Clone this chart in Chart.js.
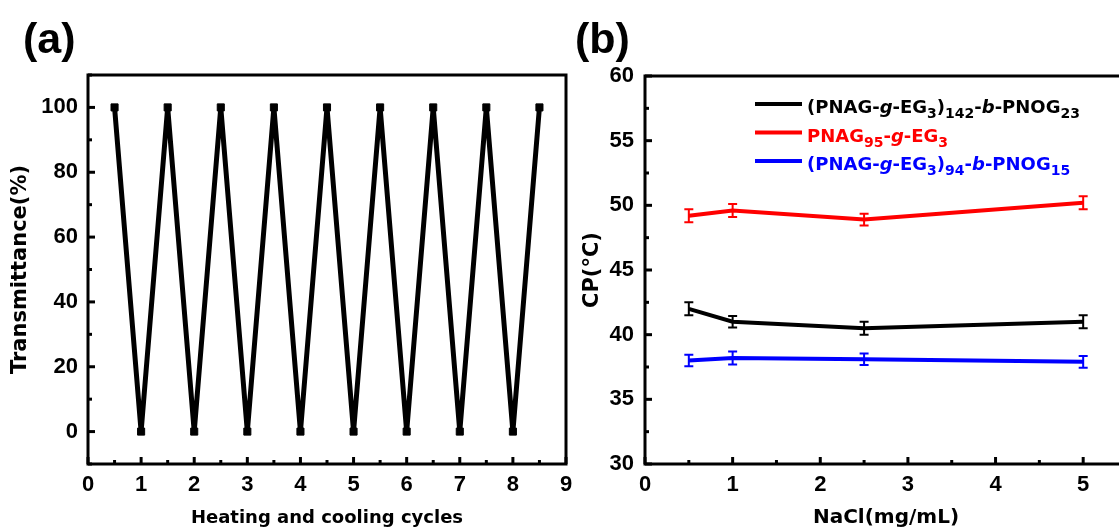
<!DOCTYPE html>
<html>
<head>
<meta charset="utf-8">
<script src="https://cdn.jsdelivr.net/npm/chart.js@4.4.1/dist/chart.umd.min.js"></script>
<style>
    html, body { margin: 0; padding: 0; background: #fff; overflow: hidden; }
    body { width: 1119px; height: 531px; position: relative; }
    canvas { position: absolute; top: 0; }
    #chartA { left: 0; }
    #chartB { left: 570px; }
</style>
</head>
<body>
<canvas id="chartA" width="610" height="531"></canvas>
<canvas id="chartB" width="600" height="531"></canvas>
<script>
// (a) heating / cooling cycles
const CYCLES = [0.5, 1, 1.5, 2, 2.5, 3, 3.5, 4, 4.5, 5, 5.5, 6, 6.5, 7, 7.5, 8, 8.5];
const TRANSMITTANCE = [100, 0, 100, 0, 100, 0, 100, 0, 100, 0, 100, 0, 100, 0, 100, 0, 100];
const X_TICKS_A = [0, 1, 2, 3, 4, 5, 6, 7, 8, 9];
const Y_TICKS_A = [0, 20, 40, 60, 80, 100];

// (b) cloud point vs NaCl
const NACL = [0.5, 1, 2.5, 5];
const CP_BLOCK142 = [42.0, 41.0, 40.5, 41.0];
const ERR_BLOCK142 = [0.5, 0.45, 0.5, 0.5];
const CP_PNAG95 = [49.2, 49.6, 48.9, 50.2];
const ERR_PNAG95 = [0.5, 0.5, 0.45, 0.5];
const CP_BLOCK94 = [38.0, 38.2, 38.1, 37.9];
const ERR_BLOCK94 = [0.45, 0.5, 0.45, 0.45];
const X_TICKS_B = [0, 1, 2, 3, 4, 5];
const Y_TICKS_B = [30, 35, 40, 45, 50, 55, 60];

const TICK_FONT = { family: 'Liberation Sans', size: 22, weight: 'bold' };
const XTITLE_A = { family: 'DejaVu Sans', size: 18, weight: 'bold' };
const XTITLE_B = { family: 'DejaVu Sans', size: 20, weight: 'bold' };
const YTITLE_FONT = { family: 'DejaVu Sans', size: 21, weight: 'bold' };

Chart.defaults.font.family = 'Liberation Sans';
Chart.defaults.color = '#000';

const pts = (xs, ys) => xs.map((x, i) => ({ x, y: ys[i] }));
const fixTicks = list => scale => { scale.ticks = list.map(v => ({ value: v })); };

// box around the plot with inward ticks on left and bottom
const framePlugin = {
    id: 'frame',
    afterDraw(chart, args, opts) {
        const { ctx, chartArea: a, scales: { x, y } } = chart;
        ctx.save();
        ctx.strokeStyle = '#000';
        ctx.lineWidth = 3;
        ctx.lineCap = 'butt';
        const isMajor = (v, step) => Math.abs(v / step - Math.round(v / step)) < 1e-6;
        for (let v = x.min; v <= x.max + 1e-9; v += opts.xMinor) {
            const px = x.getPixelForValue(v);
            const len = isMajor(v, opts.xMajor) ? 7 : 4;
            ctx.beginPath();
            ctx.moveTo(px, a.bottom);
            ctx.lineTo(px, a.bottom - len);
            ctx.stroke();
        }
        for (let v = y.min; v <= y.max + 1e-9; v += opts.yMinor) {
            const py = y.getPixelForValue(v);
            const len = isMajor(v - opts.yBase, opts.yMajor) ? 7 : 4;
            ctx.beginPath();
            ctx.moveTo(a.left, py);
            ctx.lineTo(a.left + len, py);
            ctx.stroke();
        }
        ctx.strokeRect(a.left, a.top, a.right - a.left, a.bottom - a.top);
        ctx.restore();
    },
};

const panelLabel = {
    id: 'panelLabel',
    afterDraw(chart, args, opts) {
        const { ctx } = chart;
        ctx.save();
        ctx.font = 'bold 43px "Liberation Sans"';
        ctx.fillStyle = '#000';
        ctx.textBaseline = 'alphabetic';
        ctx.fillText(opts.text, opts.x, opts.y);
        ctx.restore();
    },
};

const errorBars = {
    id: 'errorBars',
    afterDatasetsDraw(chart, args, opts) {
        const { ctx, scales: { x, y } } = chart;
        ctx.save();
        ctx.lineWidth = 2;
        opts.sets.forEach(s => {
            ctx.strokeStyle = s.color;
            NACL.forEach((n, i) => {
                const px = x.getPixelForValue(n);
                const top = y.getPixelForValue(s.values[i] + s.errors[i]);
                const bot = y.getPixelForValue(s.values[i] - s.errors[i]);
                ctx.beginPath();
                ctx.moveTo(px, top); ctx.lineTo(px, bot);
                ctx.moveTo(px - 4.5, top); ctx.lineTo(px + 4.5, top);
                ctx.moveTo(px - 4.5, bot); ctx.lineTo(px + 4.5, bot);
                ctx.stroke();
            });
        });
        ctx.restore();
    },
};

// legend with subscripts and italic letters
const richLegend = {
    id: 'richLegend',
    afterDraw(chart, args, opts) {
        const { ctx } = chart;
        ctx.save();
        opts.rows.forEach((row, r) => {
            const ly = opts.y + r * opts.gap;
            ctx.strokeStyle = row.color;
            ctx.fillStyle = row.color;
            ctx.lineWidth = 4;
            ctx.beginPath();
            ctx.moveTo(opts.x, ly);
            ctx.lineTo(opts.x + 47, ly);
            ctx.stroke();
            let tx = opts.x + 52;
            const base = ly + 9;
            row.parts.forEach(([t, kind]) => {
                if (kind === 's') ctx.font = 'bold 14px "DejaVu Sans"';
                else if (kind === 'i') ctx.font = 'italic bold 18px "DejaVu Sans"';
                else ctx.font = 'bold 18px "DejaVu Sans"';
                ctx.fillText(t, tx, kind === 's' ? base + 5 : base);
                tx += ctx.measureText(t).width;
            });
        });
        ctx.restore();
    },
};

function initCycles() {
    const el = document.getElementById('chartA');
    new Chart(el, {
        type: 'line',
        data: {
            datasets: [{
                data: pts(CYCLES, TRANSMITTANCE),
                borderColor: '#000',
                backgroundColor: '#000',
                borderWidth: 5,
                pointStyle: 'rect',
                pointRadius: 5,
                pointBorderWidth: 1,
                tension: 0,
            }],
        },
        options: {
            responsive: false,
            animation: false,
            layout: { padding: { top: 75, right: 44, bottom: 0, left: 0 } },
            plugins: {
                legend: { display: false },
                tooltip: { enabled: false },
                frame: { xMinor: 0.5, xMajor: 1, yMinor: 10, yMajor: 20, yBase: 0 },
                panelLabel: { text: '(a)', x: 23, y: 53 },
            },
            scales: {
                x: {
                    type: 'linear',
                    min: 0,
                    max: 9,
                    afterBuildTicks: fixTicks(X_TICKS_A),
                    afterFit: s => { s.height = 67; },
                    grid: { display: false, drawTicks: false },
                    border: { display: false },
                    ticks: { font: TICK_FONT, color: '#000', padding: 8, maxRotation: 0, autoSkip: false },
                    title: { display: true, text: 'Heating and cooling cycles', font: XTITLE_A, color: '#000', padding: { top: 0, bottom: 2 } },
                },
                y: {
                    min: -10,
                    max: 110,
                    afterBuildTicks: fixTicks(Y_TICKS_A),
                    afterFit: s => { s.width = 88; },
                    grid: { display: false, drawTicks: false },
                    border: { display: false },
                    ticks: { font: TICK_FONT, color: '#000', padding: 10 },
                    title: { display: true, text: 'Transmittance(%)', font: YTITLE_FONT, color: '#000', padding: { top: 8, bottom: 0 } },
                },
            },
        },
        plugins: [framePlugin, panelLabel],
    });
}

function initCloudPoint() {
    const el = document.getElementById('chartB');
    const line = (ys, color) => ({
        data: pts(NACL, ys),
        borderColor: color,
        backgroundColor: color,
        borderWidth: 4,
        pointRadius: 0,
        tension: 0,
    });
    new Chart(el, {
        type: 'line',
        data: {
            datasets: [
                line(CP_BLOCK142, '#000000'),
                line(CP_PNAG95, '#ff0000'),
                line(CP_BLOCK94, '#0000ff'),
            ],
        },
        options: {
            responsive: false,
            animation: false,
            layout: { padding: { top: 76, right: 43, bottom: 0, left: 0 } },
            plugins: {
                legend: { display: false },
                tooltip: { enabled: false },
                frame: { xMinor: 0.5, xMajor: 1, yMinor: 2.5, yMajor: 5, yBase: 30 },
                panelLabel: { text: '(b)', x: 5, y: 53 },
                errorBars: {
                    sets: [
                        { values: CP_BLOCK142, errors: ERR_BLOCK142, color: '#000000' },
                        { values: CP_PNAG95, errors: ERR_PNAG95, color: '#ff0000' },
                        { values: CP_BLOCK94, errors: ERR_BLOCK94, color: '#0000ff' },
                    ],
                },
                richLegend: {
                    x: 185,
                    y: 104,
                    gap: 28.5,
                    rows: [
                        { color: '#000000', parts: [['(PNAG-', 'n'], ['g', 'i'], ['-EG', 'n'], ['3', 's'], [')', 'n'], ['142', 's'], ['-', 'n'], ['b', 'i'], ['-PNOG', 'n'], ['23', 's']] },
                        { color: '#ff0000', parts: [['PNAG', 'n'], ['95', 's'], ['-', 'n'], ['g', 'i'], ['-EG', 'n'], ['3', 's']] },
                        { color: '#0000ff', parts: [['(PNAG-', 'n'], ['g', 'i'], ['-EG', 'n'], ['3', 's'], [')', 'n'], ['94', 's'], ['-', 'n'], ['b', 'i'], ['-PNOG', 'n'], ['15', 's']] },
                    ],
                },
            },
            scales: {
                x: {
                    type: 'linear',
                    min: 0,
                    max: 5.5,
                    afterBuildTicks: fixTicks(X_TICKS_B),
                    afterFit: s => { s.height = 67; },
                    grid: { display: false, drawTicks: false },
                    border: { display: false },
                    ticks: { font: TICK_FONT, color: '#000', padding: 8, maxRotation: 0, autoSkip: false },
                    title: { display: true, text: 'NaCl(mg/mL)', font: XTITLE_B, color: '#000', padding: { top: 0, bottom: 1 } },
                },
                y: {
                    min: 30,
                    max: 60,
                    afterBuildTicks: fixTicks(Y_TICKS_B),
                    afterFit: s => { s.width = 75; },
                    grid: { display: false, drawTicks: false },
                    border: { display: false },
                    ticks: { font: TICK_FONT, color: '#000', padding: 11 },
                    title: { display: true, text: 'CP(°C)', font: YTITLE_FONT, color: '#000', padding: { top: 10, bottom: 0 } },
                },
            },
        },
        plugins: [framePlugin, panelLabel, errorBars, richLegend],
    });
}

initCycles();
initCloudPoint();
</script>
</body>
</html>
